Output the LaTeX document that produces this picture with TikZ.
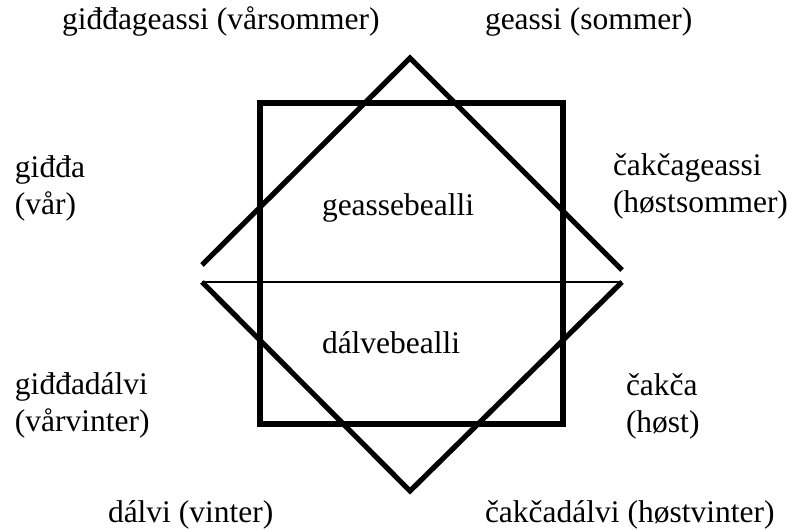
\documentclass[tikz,border=0pt]{standalone}
\usepackage{fontspec}
\setmainfont{Liberation Serif}
\begin{document}
\begin{tikzpicture}[x=1pt,y=-1pt,
  lbl/.style={anchor=base west,inner sep=0pt,outer sep=0pt,align=left,font=\fontsize{31.5}{37}\selectfont},
  heavy/.style={line width=5.2pt,line join=miter},
  thin/.style={line width=2.4pt}]
\useasboundingbox[fill=white] (0,0) rectangle (793,530);
% square
\draw[heavy] (260,103) rectangle (563,424);
% upper diamond half
\coordinate (ul) at (202,265);
\coordinate (top) at (410,58);
\coordinate (ur) at (622,270);
\draw[heavy] (ul) -- (top) -- (ur);
% lower diamond half
\coordinate (ll) at (202,282);
\coordinate (bot) at (410,491);
\coordinate (lr) at (622,282);
\draw[heavy] (ll) -- (bot) -- (lr);
\draw[thin] (ll) -- (lr);
% labels (multi-line nodes: base = last line)
\node[lbl] (vs) at (62,30) {giđđageassi (vårsommer)};
\node[lbl] (s) at (485,30) {geassi (sommer)};
\node[lbl] (v) at (15,214) {giđđa\\(vår)};
\node[lbl] (hs) at (613,212) {čakčageassi\\(høstsommer)};
\node[lbl] (gb) at (322,215) {geassebealli};
\node[lbl] (db) at (322,353) {dálvebealli};
\node[lbl] (vv) at (15,431) {giđđadálvi\\(vårvinter)};
\node[lbl] (h) at (626,432) {čakča\\(høst)};
\node[lbl] (w) at (108,522) {dálvi (vinter)};
\node[lbl] (hv) at (485,522) {čakčadálvi (høstvinter)};
\end{tikzpicture}
\end{document}
